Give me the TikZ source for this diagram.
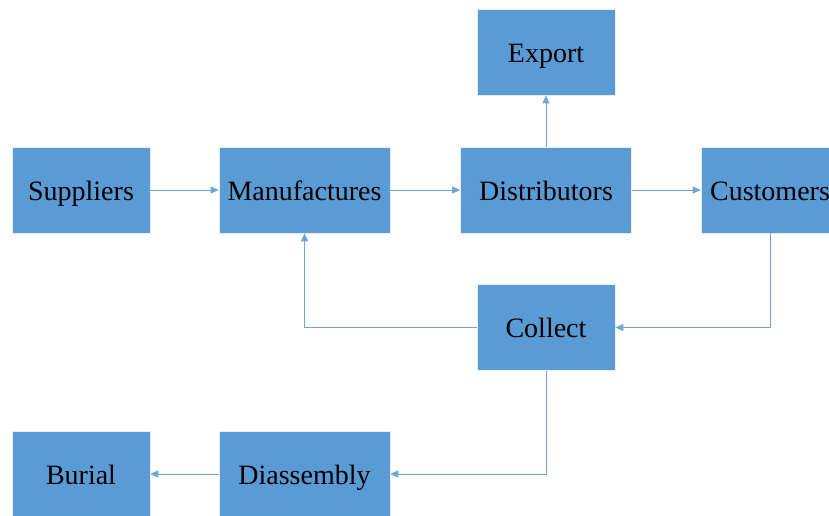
\documentclass[tikz,border=0pt]{standalone}
\usepackage{fontspec}
\setmainfont{Liberation Serif}
\usetikzlibrary{positioning,arrows.meta}
\definecolor{boxblue}{HTML}{5B9BD5}
\definecolor{lineblue}{HTML}{6FA6DA}

\begin{document}
\begin{tikzpicture}[x=1pt,y=-1pt]
            \tikzset{
                stage/.style={rectangle,fill=boxblue,draw=white!85!boxblue,line width=0.6pt,
                    minimum width=138pt,minimum height=86pt,inner sep=0pt,
                    text height=22pt,text depth=2pt,
                    font=\fontsize{28}{32}\selectfont},
                widestage/.style={stage,minimum width=171pt},
                flow/.style={draw=lineblue,line width=0.9pt,-{Triangle[length=8pt,width=7pt]}},}
            \useasboundingbox (0,0) rectangle (829,515);
            \node [stage] (sup) at (81,190) {Suppliers};
            \node [widestage] (man) at (304.5,190) {Manufactures};
            \node [widestage] (dist) at (546,190) {Distributors};
            \node [stage] (cust) at (770,190) {Customers};
            \node [stage] (exp) at (546,52) {Export};
            \node [stage] (coll) at (546,327.5) {Collect};
            \node [widestage] (dis) at (304.5,474) {Diassembly};
            \node [stage] (bur) at (81,474) {Burial};
            \draw [flow] (sup) -- (man);
            \draw [flow] (man) -- (dist);
            \draw [flow] (dist) -- (cust);
            \draw [flow] (dist) -- (exp);
            \draw [flow] (cust.south) |- (coll.east);
            \draw [flow] (coll.west) -| (man.south);
            \draw [flow] (coll.south) |- (dis.east);
            \draw [flow] (dis) -- (bur);
        \end{tikzpicture}
\end{document}
